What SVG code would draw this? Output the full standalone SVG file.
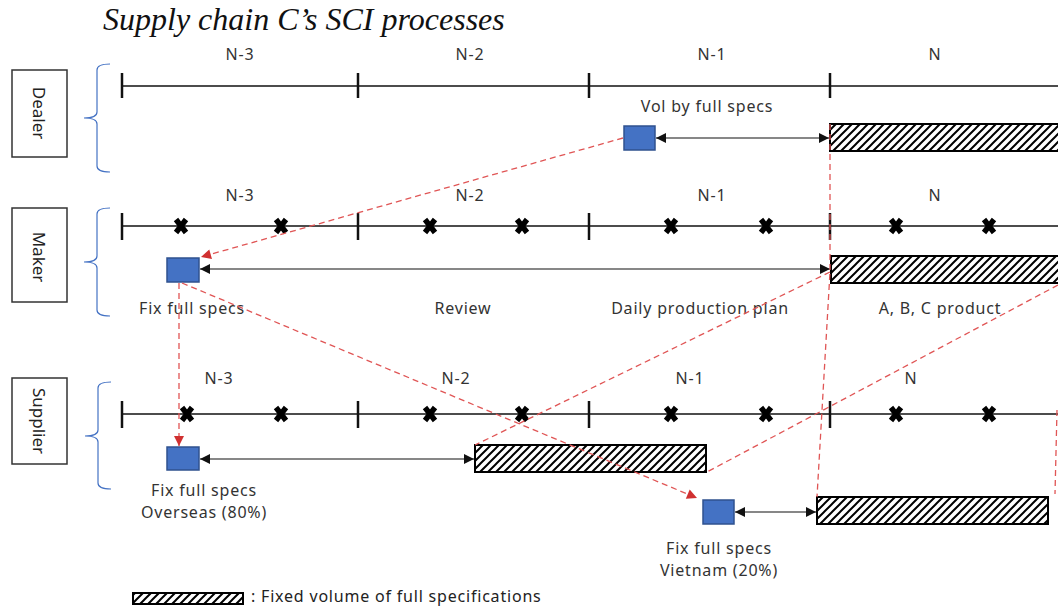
<svg xmlns="http://www.w3.org/2000/svg" width="1058" height="608" viewBox="0 0 1058 608">
<style>
.t{font-family:"Noto Sans","Open Sans",sans-serif;font-size:16px;letter-spacing:0.8px;fill:#333;text-anchor:middle}
.role{font-family:"Noto Sans","Open Sans",sans-serif;font-size:17px;fill:#222;text-anchor:middle}
.box{fill:#fff;stroke:#333;stroke-width:1.5}
.brace{fill:none;stroke:#4472C4;stroke-width:1.2}
.axis{stroke:#111;stroke-width:1.3}
.tick{stroke:#111;stroke-width:2.5}
.sq{fill:#4472C4;stroke:#2F528F;stroke-width:1.5}
.hatch{fill:url(#hatch);stroke:#000;stroke-width:2}
.arr{stroke:#111;stroke-width:1.2;fill:none;marker-start:url(#ab);marker-end:url(#ae)}
.red{stroke:#e05555;stroke-width:1.3;stroke-dasharray:6 4;fill:none}
.reda{stroke:#e05555;stroke-width:1.3;stroke-dasharray:6 4;fill:none;marker-end:url(#ar)}
</style>
<defs>
<pattern id="hatch" patternUnits="userSpaceOnUse" width="8" height="8">
<rect width="8" height="8" fill="#fff"/>
<path d="M-2,2 L2,-2 M0,8 L8,0 M6,10 L10,6" stroke="#000" stroke-width="2"/>
</pattern>
<marker id="ae" viewBox="0 0 10 10" refX="10" refY="5" markerWidth="12" markerHeight="10" markerUnits="userSpaceOnUse" orient="auto"><path d="M0,0 L10,5 L0,10 z" fill="#111"/></marker>
<marker id="ab" viewBox="0 0 10 10" refX="0" refY="5" markerWidth="12" markerHeight="10" markerUnits="userSpaceOnUse" orient="auto"><path d="M10,0 L0,5 L10,10 z" fill="#111"/></marker>
<marker id="ar" viewBox="0 0 10 10" refX="10" refY="5" markerWidth="11" markerHeight="10" markerUnits="userSpaceOnUse" orient="auto"><path d="M0,0 L10,5 L0,10 z" fill="#d03030"/></marker>
<path id="x" d="M-5,-6.5 L5,6.5 M5,-6.5 L-5,6.5" stroke="#000" stroke-width="5.5"/>
</defs>
<rect width="1058" height="608" fill="#fff"/>
<text x="103" y="30" font-family="Liberation Serif, serif" font-style="italic" font-size="32" fill="#111">Supply chain C’s SCI processes</text>

<!-- Dealer -->
<g id="dealer">
<rect class="box" x="12" y="70" width="55" height="87"/>
<text class="role" transform="translate(33,113) rotate(90)">Dealer</text>
<path class="brace" d="M110,64 Q97,64 97,70 L97,112 Q97,118 84,118 Q97,118 97,124 L97,166 Q97,172 110,172"/>
<line class="axis" x1="122" y1="86" x2="1058" y2="86"/>
<g class="tick"><line x1="122" y1="73" x2="122" y2="98"/><line x1="358" y1="73" x2="358" y2="98"/><line x1="589" y1="73" x2="589" y2="98"/><line x1="830" y1="73" x2="830" y2="98"/></g>
<text class="t" x="240" y="60">N-3</text><text class="t" x="470" y="60">N-2</text><text class="t" x="712" y="60">N-1</text><text class="t" x="935" y="60">N</text>
<text class="t" x="707" y="112">Vol by full specs</text>
</g>
<g id="dealer-spec"><rect class="sq" x="624" y="126" width="31" height="24"/></g>
<g id="dealer-volume"><rect class="hatch" x="830" y="124" width="240" height="27"/></g>

<!-- Maker -->
<g id="maker">
<rect class="box" x="12" y="208" width="55" height="94"/>
<text class="role" transform="translate(33,257) rotate(90)">Maker</text>
<path class="brace" d="M110,208 Q97,208 97,214 L97,256 Q97,262 84,262 Q97,262 97,268 L97,310 Q97,316 110,316"/>
<line class="axis" x1="122" y1="226" x2="1058" y2="226"/>
<g class="tick"><line x1="122" y1="213" x2="122" y2="240"/><line x1="358" y1="213" x2="358" y2="240"/><line x1="589" y1="213" x2="589" y2="240"/><line x1="830" y1="213" x2="830" y2="240"/></g>
<use href="#x" x="181" y="226"/><use href="#x" x="281" y="226"/><use href="#x" x="430" y="226"/><use href="#x" x="522" y="226"/><use href="#x" x="671" y="226"/><use href="#x" x="766" y="226"/><use href="#x" x="896" y="226"/><use href="#x" x="989" y="226"/>
<text class="t" x="240" y="201">N-3</text><text class="t" x="470" y="201">N-2</text><text class="t" x="712" y="201">N-1</text><text class="t" x="935" y="201">N</text>
<text class="t" x="192" y="314">Fix full specs</text>
<text class="t" x="463" y="314">Review</text>
<text class="t" x="700" y="314">Daily production plan</text>
<text class="t" x="940" y="314">A, B, C product</text>
</g>
<g id="maker-spec"><rect class="sq" x="167" y="258" width="32" height="24"/></g>
<g id="maker-volume"><rect class="hatch" x="831" y="256" width="240" height="27"/></g>

<!-- Supplier -->
<g id="supplier">
<rect class="box" x="12" y="378" width="55" height="86"/>
<text class="role" transform="translate(33,421) rotate(90)">Supplier</text>
<path class="brace" d="M111,382 Q98,382 98,388 L98,430 Q98,436 85,436 Q98,436 98,442 L98,483 Q98,489 111,489"/>
<line class="axis" x1="122" y1="414" x2="1058" y2="414"/>
<g class="tick"><line x1="122" y1="401" x2="122" y2="428"/><line x1="358" y1="401" x2="358" y2="428"/><line x1="589" y1="401" x2="589" y2="428"/><line x1="830" y1="401" x2="830" y2="428"/></g>
<use href="#x" x="187" y="414"/><use href="#x" x="281" y="414"/><use href="#x" x="430" y="414"/><use href="#x" x="522" y="414"/><use href="#x" x="671" y="414"/><use href="#x" x="766" y="414"/><use href="#x" x="896" y="414"/><use href="#x" x="989" y="414"/>
<text class="t" x="219" y="384">N-3</text><text class="t" x="456" y="384">N-2</text><text class="t" x="690" y="384">N-1</text><text class="t" x="911" y="384">N</text>
<text class="t" x="204" y="496">Fix full specs</text>
<text class="t" x="204" y="518">Overseas (80%)</text>
<text class="t" x="719" y="554">Fix full specs</text>
<text class="t" x="719" y="576">Vietnam (20%)</text>
</g>
<g id="overseas-spec"><rect class="sq" x="167" y="447" width="32" height="23"/></g>
<g id="overseas-volume"><rect class="hatch" x="475" y="445" width="231" height="27"/></g>
<g id="vietnam-spec"><rect class="sq" x="703" y="500" width="31" height="24"/></g>
<g id="vietnam-volume"><rect class="hatch" x="817" y="497" width="231" height="27"/></g>

<!-- Legend -->
<g id="legend">
<rect class="hatch" x="133" y="593" width="110" height="11" stroke-width="1.5"/>
<text x="251" y="602" font-family="Noto Sans, Open Sans, sans-serif" font-size="16" letter-spacing="0.8" fill="#222">: Fixed volume of full specifications</text>
</g>

<!-- Connectors -->
<g id="connectors">
<line class="arr" x1="656" y1="138" x2="829" y2="138"/>
<line class="arr" x1="200" y1="269" x2="830" y2="269"/>
<line class="arr" x1="200" y1="459" x2="474" y2="459"/>
<line class="arr" x1="735" y1="512" x2="816" y2="512"/>
<line class="reda" x1="623" y1="138" x2="201" y2="257"/>
<line class="reda" x1="179" y1="283" x2="179" y2="446"/>
<line class="reda" x1="182" y1="283" x2="697" y2="498"/>
<polyline class="red" points="830,124 830,272 817,497"/>
<line class="red" x1="830" y1="272" x2="475" y2="445"/>
<line class="red" x1="1058" y1="285" x2="707" y2="472"/>
<line class="red" x1="1057" y1="410" x2="1055" y2="494"/>
</g>
</svg>
